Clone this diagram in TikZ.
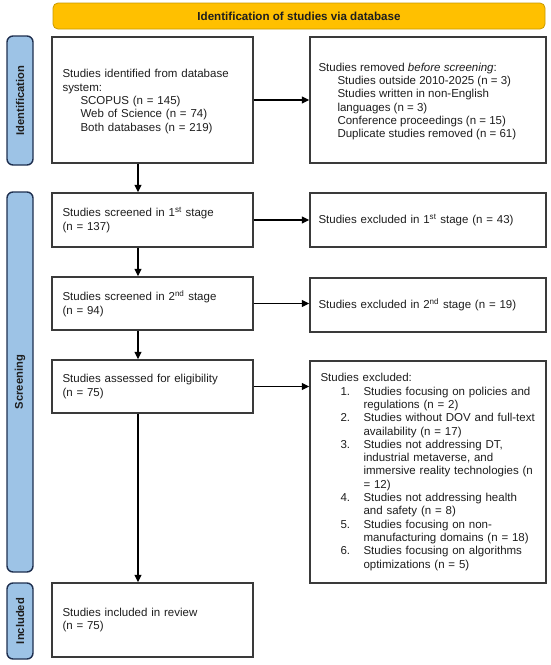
\documentclass[tikz,border=0pt]{standalone}
\usepackage{fontspec}
\setmainfont{Liberation Sans}
\usetikzlibrary{arrows.meta,calc}
\definecolor{barblue}{HTML}{9DC3E6}
\definecolor{barborder}{HTML}{1F3050}
\definecolor{gold}{HTML}{FFC000}
\definecolor{goldborder}{HTML}{C99A00}
\definecolor{boxborder}{HTML}{3A3A3A}
\definecolor{txtcol}{HTML}{1E1E1E}
\newcommand{\myind}[1]{\leavevmode\hbox to #1pt{\hfil}}
\newcommand{\mynum}[1]{\leavevmode\hbox to 20pt{\hfil}\hbox to 23pt{#1\hfil}}
\newcommand{\myline}[2]{\hbox{\kern#1pt\relax #2}}
\begin{document}
\begin{tikzpicture}[x=1pt,y=-1pt,
  box/.style={draw=boxborder, line width=1.4pt, fill=white, inner sep=0pt, minimum width=201pt},
  rbox/.style={box, minimum width=236pt},
  txt/.style={anchor=west, align=left, inner sep=0pt, text=txtcol, text width=185pt, font=\fontsize{11.5}{13.3}\selectfont},
  rtxt/.style={txt, text width=224pt},
  vtxt/.style={anchor=west, inner sep=0pt, text=txtcol, font=\fontsize{11.5}{13.3}\selectfont},
  sidebar/.style={draw=barborder, line width=1.4pt, fill=barblue, rounded corners=6pt, minimum width=26pt, inner sep=0pt},
  sidelabel/.style={rotate=90, text=txtcol, inner sep=0pt, font=\fontsize{11.2}{13}\selectfont\bfseries},
  arr/.style={line width=1.3pt, draw=black, -{Triangle[length=7.5pt,width=7pt]}}
]
\useasboundingbox (0,0) rectangle (550,665);
\fill[white] (0,0) rectangle (550,665);

% banner
\node[draw=goldborder, line width=0.8pt, fill=gold, rounded corners=5pt, minimum width=492pt, minimum height=26pt, inner sep=0pt,
      font=\fontsize{11.6}{13}\selectfont\bfseries, text=txtcol] (banner) at (299,16) {Identification of studies via database};

% side bars
\node[sidebar, minimum height=129pt] (barid) at (20,100.5) {};
\node[sidelabel] (labid) at (barid.center) {Identification};
\node[sidebar, minimum height=380pt] (barsc) at (20,382) {};
\node[sidelabel] (labsc) at (barsc.center) {Screening};
\node[sidebar, minimum height=76pt] (barin) at (20,621) {};
\node[sidelabel] (labin) at (barin.center) {Included};

% left column
\node[box, minimum height=126pt] (b1) at (152.5,100) {};
\node[txt] (t1) at ([xshift=11pt,yshift=-1.5pt]b1.west) {Studies identified from database\\system:\\
\myind{18}SCOPUS (n = 145)\\\myind{18}Web of Science (n = 74)\\\myind{18}Both databases (n = 219)};

\node[box, minimum height=54pt] (b2) at (152.5,220) {};
\node[txt] (t2) at ([xshift=11pt]b2.west) {Studies screened in 1\textsuperscript{st} stage\\(n = 137)};

\node[box, minimum height=53pt] (b3) at (152.5,303.5) {};
\node[txt] (t3) at ([xshift=11pt]b3.west) {Studies screened in 2\textsuperscript{nd} stage\\(n = 94)};

\node[box, minimum height=53pt] (b4) at (152.5,386.5) {};
\node[txt] (t4) at ([xshift=11pt]b4.west) {Studies assessed for eligibility\\(n = 75)};

\node[box, minimum height=74pt] (b5) at (152.5,620) {};
\node[txt] (t5) at ([xshift=11pt]b5.west) {Studies included in review\\(n = 75)};

% right column
\node[rbox, minimum height=126pt] (r1) at (428,100) {};
\node[vtxt] (s1) at ([xshift=9pt,yshift=-1.5pt]r1.west) {\vbox{%
\myline{0}{Studies removed \textit{before screening}:}%
\myline{19}{Studies outside 2010-2025 (n = 3)}%
\myline{19}{Studies written in non-English}%
\myline{19}{languages (n = 3)}%
\myline{19}{Conference proceedings (n = 15)}%
\myline{19}{Duplicate studies removed (n = 61)}}};

\node[rbox, minimum height=54pt] (r2) at (428,220) {};
\node[rtxt] (s2) at ([xshift=9pt]r2.west) {Studies excluded in 1\textsuperscript{st} stage (n = 43)};

\node[rbox, minimum height=54pt] (r3) at (428,305) {};
\node[rtxt] (s3) at ([xshift=9pt]r3.west) {Studies excluded in 2\textsuperscript{nd} stage (n = 19)};

\node[rbox, minimum height=222pt] (r4) at (428,472) {};
\node[rtxt] (s4) at ([xshift=11pt]r4.west) {Studies excluded:\\
\mynum{1.}Studies focusing on policies and\\
\myind{43}regulations (n = 2)\\
\mynum{2.}Studies without DOV and full-text\\
\myind{43}availability (n = 17)\\
\mynum{3.}Studies not addressing DT,\\
\myind{43}industrial metaverse, and\\
\myind{43}immersive reality technologies (n\\
\myind{43}= 12)\\
\mynum{4.}Studies not addressing health\\
\myind{43}and safety (n = 8)\\
\mynum{5.}Studies focusing on non-\\
\myind{43}manufacturing domains (n = 18)\\
\mynum{6.}Studies focusing on algorithms\\
\myind{43}optimizations (n = 5)};

% vertical arrows
\draw[arr] ([xshift=-14.5pt]b1.south) -- ([xshift=-14.5pt]b2.north);
\draw[arr] ([xshift=-14.5pt]b2.south) -- ([xshift=-14.5pt]b3.north);
\draw[arr] ([xshift=-14.5pt]b3.south) -- ([xshift=-14.5pt]b4.north);
\draw[arr] ([xshift=-14.5pt]b4.south) -- ([xshift=-14.5pt]b5.north);

% horizontal arrows
\draw[arr] (b1.east) -- (r1.west);
\draw[arr] (b2.east) -- (r2.west);
\draw[arr] (b3.east) -- (b3.east -| r3.west);
\draw[arr] (b4.east) -- (b4.east -| r4.west);
\end{tikzpicture}
\end{document}
